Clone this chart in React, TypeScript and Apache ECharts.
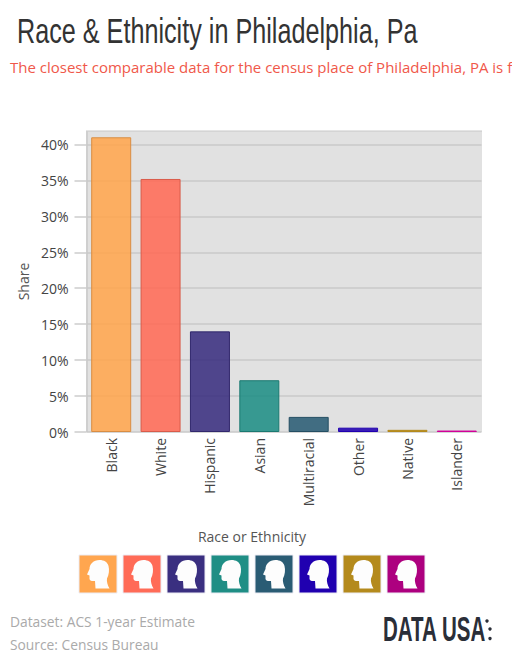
import React, { useEffect, useRef } from "react";
import * as echarts from "echarts";

const categories = ["Black", "White", "Hispanic", "Asian", "Multiracial", "Other", "Native", "Islander"];
const shares = [41.0, 35.2, 14.0, 7.2, 2.1, 0.6, 0.3, 0.2];
const colors = ["#ffa64f", "#ff6b57", "#3a2f80", "#1f8e85", "#2a5c74", "#2000b0", "#b48a1c", "#d1009a"];
const swatchColors = ["#ffa64f", "#ff6b57", "#3a2f80", "#1f8e85", "#2a5c74", "#2000b0", "#b48a1c", "#ad007f"];
const yTicks = [0, 5, 10, 15, 20, 25, 30, 35, 40];

const titleText = "Race & Ethnicity in Philadelphia, Pa";
const subtitleText = "The closest comparable data for the census place of Philadelphia, PA is f";
const legendTitle = "Race or Ethnicity";
const datasetNote = "Dataset: ACS 1-year Estimate";
const sourceNote = "Source: Census Bureau";
const UI_FONT = '"Open Sans", sans-serif';
const DISPLAY_FONT = '"Liberation Sans", sans-serif';

// Head silhouette for the legend swatches, in a 38-unit square.
const HEAD_PATH =
  "M20.5 5C14.5 5 10.5 9 10.5 14L8 19.5L10.5 20.5L10.5 24C11 26 13.5 26.3 16 26L16.5 33.5L30.5 33.5C28.5 30 27.5 26.5 28 23.5C30 19.5 30.5 15 29.5 11C28.5 7 25 5 20.5 5Z";
echarts.graphic.registerShape("legendHead", echarts.graphic.extendPath(HEAD_PATH, {}));

const toRgb = (hex: string) => {
  const n = parseInt(hex.slice(1), 16);
  return [(n >> 16) & 255, (n >> 8) & 255, n & 255];
};
const withAlpha = (hex: string, a: number) => `rgba(${toRgb(hex).join(",")},${a})`;
const darken = (hex: string, f: number) => `rgb(${toRgb(hex).map((c) => Math.round(c * f)).join(",")})`;

export default function App() {
  const ref = useRef<HTMLDivElement>(null);

  useEffect(() => {
    const chart = echarts.init(ref.current!, undefined, { renderer: "svg" });

    const swatches = swatchColors.flatMap((c, i) => {
      const x = 79 + i * 44;
      return [
        {
          type: "rect",
          shape: { x, y: 555, width: 38, height: 38 },
          style: { fill: c, stroke: "#ececf4", lineWidth: 1 },
        },
        { type: "legendHead", x, y: 555, style: { fill: "#fdfdfd" } },
      ];
    });

    chart.setOption({
      animation: false,
      backgroundColor: "#ffffff",
      grid: { left: 86.5, right: 30.5, top: 131, bottom: 218, show: false },
      xAxis: {
        type: "category",
        data: categories,
        axisLine: { show: false },
        axisTick: { show: false },
        axisLabel: {
          rotate: 90,
          margin: 6,
          interval: 0,
          fontFamily: UI_FONT,
          fontSize: 14,
          color: "#444444",
        },
      },
      yAxis: {
        type: "value",
        min: 0,
        max: 41.875,
        name: "Share",
        nameLocation: "middle",
        nameRotate: 90,
        nameGap: 54,
        nameTextStyle: { fontFamily: UI_FONT, fontSize: 14, color: "#555555" },
        axisLine: { show: false },
        axisTick: {
          show: true,
          length: 12,
          customValues: yTicks,
          lineStyle: { color: "#cccccc", width: 1.5 },
        },
        splitLine: { show: true, lineStyle: { color: "#c9c9c9", width: 1.5 } },
        axisLabel: {
          customValues: yTicks,
          formatter: "{value}%",
          margin: 18,
          fontFamily: UI_FONT,
          fontSize: 14,
          color: "#444444",
        },
      },
      series: [
        {
          type: "bar",
          barWidth: 40,
          z: 3,
          data: shares.map((value, i) => ({
            value,
            itemStyle: {
              color: withAlpha(colors[i], 0.88),
              // The thinnest bars are almost all outline, so they keep their own colour.
              borderColor: value < 1 ? colors[i] : darken(colors[i], 0.85),
              borderWidth: 1,
            },
          })),
        },
      ],
      graphic: [
        // Plot panel with top and left rules, drawn under the axes.
        {
          type: "rect",
          z: -1,
          silent: true,
          shape: { x: 86, y: 131, width: 396, height: 301 },
          style: { fill: "#e1e1e1" },
        },
        { type: "line", z: -1, shape: { x1: 86, y1: 131, x2: 482, y2: 131 }, style: { stroke: "#c8c8c8", lineWidth: 1 } },
        { type: "line", z: -1, shape: { x1: 87, y1: 131, x2: 87, y2: 432 }, style: { stroke: "#cfcfcf", lineWidth: 2 } },
        {
          type: "text",
          x: 17,
          y: 13,
          scaleX: 0.7,
          style: { text: titleText, font: `36px ${DISPLAY_FONT}`, fill: "#333333" },
        },
        {
          type: "text",
          x: 10,
          y: 59,
          style: { text: subtitleText, font: `15px ${UI_FONT}`, fill: "#f0584a" },
        },
        {
          type: "text",
          x: 252,
          y: 529,
          style: { text: legendTitle, font: `14px ${UI_FONT}`, fill: "#555555", align: "center" },
        },
        ...swatches,
        {
          type: "text",
          x: 10,
          y: 614,
          style: { text: datasetNote, font: `13.8px ${UI_FONT}`, fill: "#aaaaaa" },
        },
        {
          type: "text",
          x: 10,
          y: 637,
          style: { text: sourceNote, font: `13.8px ${UI_FONT}`, fill: "#aaaaaa" },
        },
        {
          type: "text",
          x: 383,
          y: 610,
          scaleX: 0.57,
          style: { text: "DATA USA", font: `bold 36px ${DISPLAY_FONT}`, fill: "#2a2e38" },
        },
        { type: "circle", shape: { cx: 487, cy: 621, r: 1.7 }, style: { fill: "#2a2e38" } },
        { type: "circle", shape: { cx: 490, cy: 629, r: 1.7 }, style: { fill: "#2a2e38" } },
        { type: "circle", shape: { cx: 490, cy: 638.5, r: 1.7 }, style: { fill: "#2a2e38" } },
      ],
    });

    return () => chart.dispose();
  }, []);

  return <div ref={ref} style={{ position: "absolute", left: 0, top: 0, width: 512, height: 650, overflow: "hidden" }} />;
}
